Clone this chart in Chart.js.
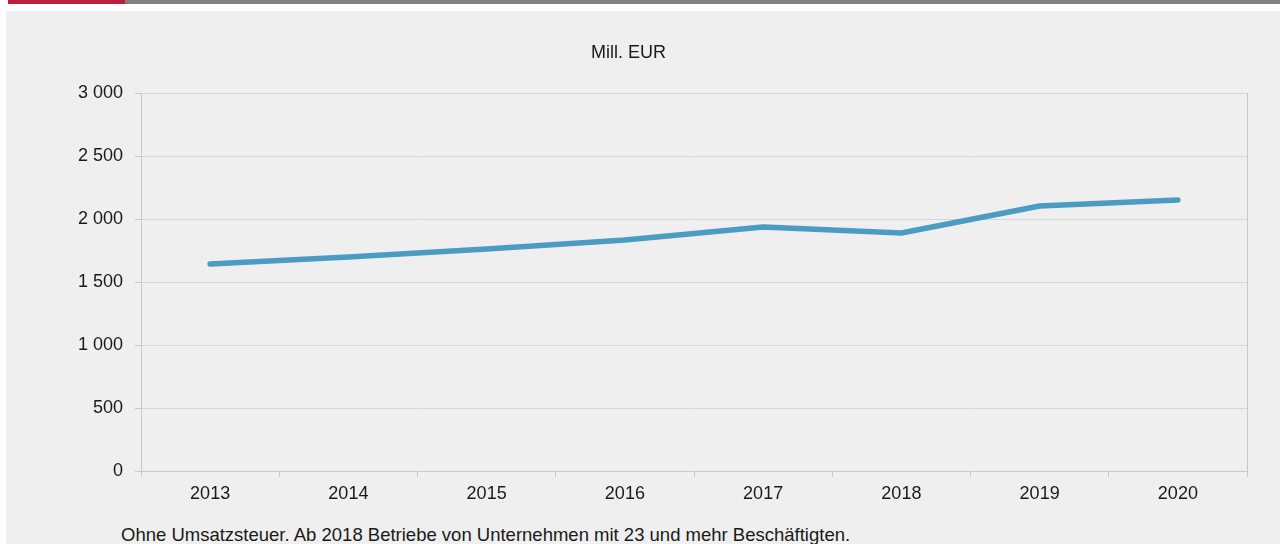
<!DOCTYPE html>
<html>
<head>
<meta charset="utf-8">
<script src="https://cdn.jsdelivr.net/npm/chart.js@4/dist/chart.umd.min.js"></script>
<style>
  body { margin: 0; width: 1280px; height: 544px; background: #fff; position: relative; overflow: hidden; font-family: 'Liberation Sans', Arial, sans-serif; }
  #barRed { position: absolute; left: 8px; top: 0; width: 117px; height: 4px; background: #be1e3c; }
  #barGrey { position: absolute; left: 125px; top: 0; right: 0; height: 4px; background: #808080; }
  #bg { position: absolute; left: 6px; top: 11px; right: 0; bottom: 0; background: #eeefee; }
  #wrap { position: absolute; left: 8px; top: 11px; width: 1272px; height: 510px; }
  #titel { position: absolute; left: 591px; top: 42px; font-size: 18px; color: #1a1a1a; }
  #fuss { position: absolute; left: 121px; top: 524px; font-size: 18.5px; color: #1a1a1a; white-space: nowrap; }
</style>
</head>
<body>
<div id="barRed"></div>
<div id="barGrey"></div>
<div id="bg"></div>
<div id="wrap"><canvas id="myChart"></canvas></div>
<div id="titel">Mill. EUR</div>
<div id="fuss">Ohne Umsatzsteuer. Ab 2018 Betriebe von Unternehmen mit 23 und mehr Beschäftigten.</div>
<script>
// Daten
const jahre = ['2013', '2014', '2015', '2016', '2017', '2018', '2019', '2020'];
const umsatz = [1643, 1698, 1762, 1833, 1937, 1889, 2103, 2151];
const yTicks = [0, 500, 1000, 1500, 2000, 2500, 3000];

function tausender(v) {
    return String(v).replace(/\B(?=(\d{3})+(?!\d))/g, ' ');
}

const ctx = document.getElementById('myChart');
const graphique = new Chart(ctx.getContext('2d'), {
    type: 'line',
    data: {
        labels: jahre,
        datasets: [{
            data: umsatz,
            borderColor: '#4a9cc2',
            borderWidth: 5.5,
            borderCapStyle: 'round',
            borderJoinStyle: 'round',
            pointRadius: 0,
            tension: 0,
            fill: false
        }]
    },
    options: {
        responsive: true,
        maintainAspectRatio: false,
        animation: false,
        layout: { padding: { top: 82, right: 33, left: 0, bottom: 0 } },
        plugins: { legend: { display: false }, tooltip: { enabled: false }, title: { display: false } },
        scales: {
            x: {
                offset: true,
                grid: { offset: true, drawOnChartArea: false, tickLength: 6, color: '#c8c8c8' },
                border: { color: '#c8c8c8', width: 1 },
                ticks: { color: '#1a1a1a', font: { family: "'Liberation Sans', Arial", size: 18 }, padding: 6, maxRotation: 0 },
                afterFit: function (scale) { scale.height = 50; }
            },
            y: {
                min: 0,
                max: 3000,
                afterBuildTicks: function (scale) { scale.ticks = yTicks.map(v => ({ value: v })); },
                grid: { color: '#d6d6d6', tickLength: 6, tickColor: '#c8c8c8' },
                border: { color: '#c8c8c8', width: 1 },
                ticks: { color: '#1a1a1a', font: { family: "'Liberation Sans', Arial", size: 18 }, padding: 12, callback: v => tausender(v) },
                afterFit: function (scale) { scale.width = 133; }
            },
            y2: {
                position: 'right',
                min: 0,
                max: 3000,
                grid: { drawOnChartArea: false, drawTicks: false },
                border: { color: '#c8c8c8', width: 1 },
                ticks: { display: false },
                afterFit: function (scale) { scale.width = 0; }
            }
        }
    }
});
</script>
</body>
</html>
